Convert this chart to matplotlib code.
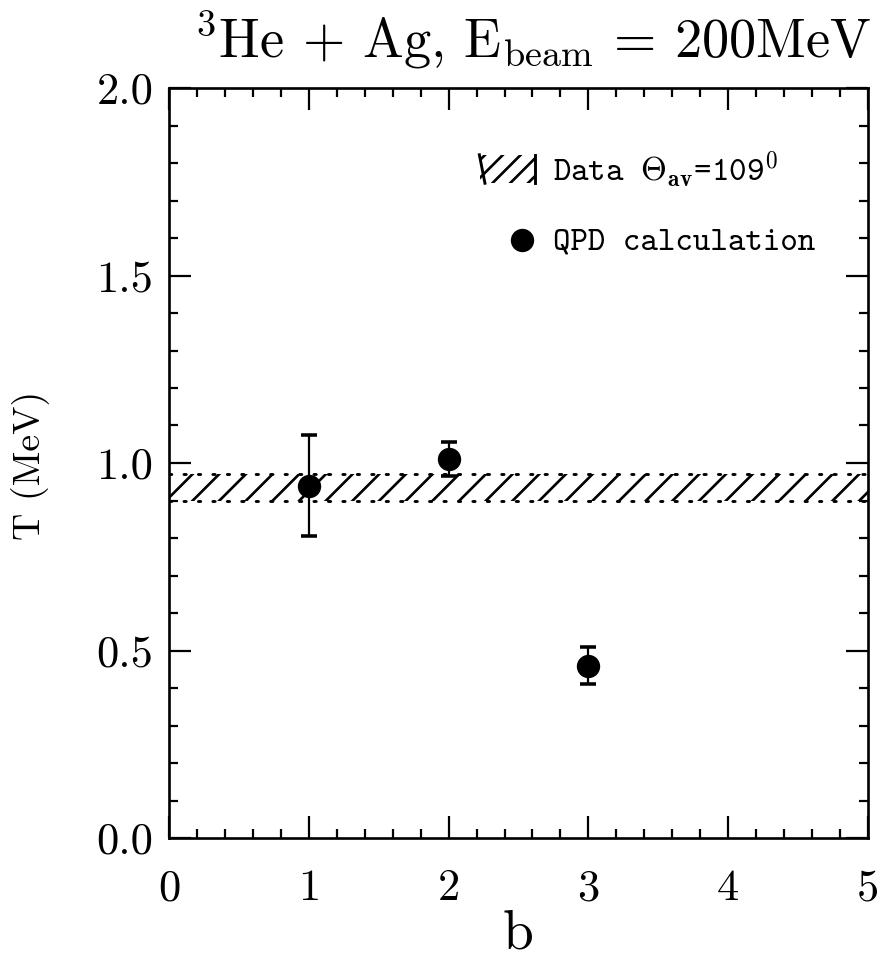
import matplotlib
matplotlib.use("Agg")
import matplotlib.pyplot as plt
from matplotlib.patches import Rectangle
from matplotlib.ticker import MultipleLocator, FormatStrFormatter

# QPD calculation: temperature vs. impact parameter
b_values = [1, 2, 3]
t_values = [0.94, 1.01, 0.46]
t_errors = [0.135, 0.045, 0.05]

# Measured band (Data, Theta_av = 109 deg)
band_low = 0.90
band_high = 0.97

x_range = [0, 5]
y_range = [0.0, 2.0]

plt.rcParams["mathtext.fontset"] = "cm"
plt.rcParams["hatch.linewidth"] = 1.2

DPI = 160
fig = plt.figure(figsize=(885 / DPI, 968 / DPI), dpi=DPI)
ax = fig.add_axes([169 / 885, 1 - 838 / 968, 699 / 885, 750 / 968])

ax.set_xlim(*x_range)
ax.set_ylim(*y_range)

# hatched data band with dotted edges
ax.fill_between(x_range, band_low, band_high, facecolor="none",
                edgecolor="black", hatch="//", linewidth=0)
for yv in (band_low, band_high):
    ax.plot(x_range, [yv, yv], color="black", lw=1.3,
            linestyle=(0, (0.8, 4.2)), dash_capstyle="round")

# calculated points
ax.errorbar(b_values, t_values, yerr=t_errors, fmt="o", color="black",
            markersize=9.5, elinewidth=1.0, capsize=3.8, capthick=1.6)

# axis styling
for s in ax.spines.values():
    s.set_linewidth(1.2)
ax.xaxis.set_major_locator(MultipleLocator(1))
ax.xaxis.set_minor_locator(MultipleLocator(0.2))
ax.yaxis.set_major_locator(MultipleLocator(0.5))
ax.yaxis.set_minor_locator(MultipleLocator(0.1))
ax.yaxis.set_major_formatter(FormatStrFormatter("%.1f"))
ax.xaxis.set_major_formatter(FormatStrFormatter("%d"))
ax.tick_params(which="both", direction="in", top=True, right=True, width=1.0)
ax.tick_params(which="major", length=10, labelsize=20)
ax.tick_params(which="minor", length=4)
ax.tick_params(axis="x", which="major", pad=14)
ax.tick_params(axis="y", which="major", pad=7)
for lab in ax.get_xticklabels() + ax.get_yticklabels():
    lab.set_family("cmr10")

ax.set_xlabel("b", family="cmr10", fontsize=25)
ax.xaxis.set_label_coords(0.5, (838 - 935) / 750)
ax.xaxis.label.set_va("center")
ax.set_ylabel("T (MeV)", family="cmr10", fontsize=17)
ax.yaxis.set_label_coords((31 - 169) / 699, 0.497)
ax.yaxis.label.set_va("center")

fig.text(0.602, 0.959, r"${}^{3}$He + Ag, E$_{\mathrm{beam}}$ = 200MeV",
         family="cmr10", fontsize=24.5, ha="center", va="center")

# key
ax.add_patch(Rectangle((0.445, 0.873), 0.079, 0.038, transform=ax.transAxes,
                       facecolor="none", edgecolor="black", hatch="///",
                       linewidth=0))
ax.plot([0.444, 0.452], [0.911, 0.873], transform=ax.transAxes,
        color="black", lw=1.3)
ax.plot([0.524, 0.524], [0.873, 0.911], transform=ax.transAxes,
        color="black", lw=1.3)
ax.text(0.549, 0.891, r"Data $\Theta_{\mathbf{av}}$=109$^{0}$",
        transform=ax.transAxes, family="cmtt10", fontsize=15,
        ha="left", va="center")
ax.plot([0.505], [0.797], "o", color="black", markersize=9.5,
        transform=ax.transAxes)
ax.text(0.549, 0.793, "QPD calculation", transform=ax.transAxes,
        family="cmtt10", fontsize=15, ha="left", va="center")

fig.savefig("out.png", dpi=DPI)
